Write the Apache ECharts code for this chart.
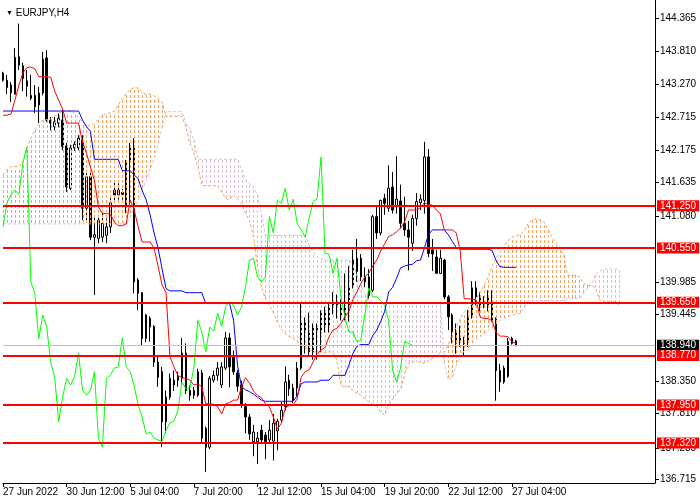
<!DOCTYPE html>
<html>
<head>
<meta charset="utf-8">
<script src="https://cdn.jsdelivr.net/npm/echarts@6/dist/echarts.min.js"></script>
<style>
    html, body, #main {
        width: 100%;
        height: 100%;
        margin: 0;
        background: #fff;
    }
</style>
</head>
<body>
<div id="main"></div>
<script>
// EURJPY H4 candles, one value per bar
var opens = [
    143.45, 143.33, 143.25, 143.10, 143.58, 143.57, 143.32, 143.03, 142.89, 142.92,
    143.12, 143.70, 142.67, 142.56, 142.62, 142.67, 142.24, 141.54, 142.21, 142.21,
    142.34, 141.21, 141.73, 140.73, 140.71, 140.73, 140.76, 140.90, 141.51, 141.43,
    141.47, 141.23, 141.98, 142.20, 140.02, 139.81, 139.05, 139.39, 139.25, 138.66,
    138.50, 137.67, 138.08, 138.36, 138.36, 138.39, 138.81, 138.19, 138.11, 138.11,
    138.48, 137.56, 137.25, 138.36, 138.44, 138.28, 138.56, 139.06, 138.75, 138.48,
    138.28, 137.92, 137.75, 137.34, 137.34, 137.53, 137.45, 137.37, 137.35, 137.52,
    137.70, 137.92, 138.36, 138.03, 138.23, 138.56, 139.35, 139.16, 138.83, 139.22,
    139.14, 139.47, 139.25, 139.57, 139.66, 139.60, 139.44, 139.57, 139.91, 140.16,
    140.38, 140.07, 139.76, 139.85, 141.07, 140.80, 141.37, 141.21, 141.56, 141.24,
    141.33, 140.96, 140.85, 140.63, 141.04, 141.30, 141.34, 142.06, 140.52, 140.40,
    140.13, 140.35, 139.74, 139.44, 138.97, 139.06, 138.97, 139.00, 139.44, 139.89,
    139.57, 139.62, 139.72, 139.63, 139.37, 138.52, 138.33, 138.42, 139.05, 139.01
];
var closes = [
    143.33, 143.21, 143.12, 143.71, 143.72, 143.36, 143.23, 143.08, 143.08, 143.12,
    143.68, 142.67, 142.62, 142.64, 142.70, 142.23, 141.56, 142.21, 142.27, 142.37,
    141.21, 141.73, 140.73, 140.77, 141.01, 140.96, 140.90, 141.30, 141.43, 141.51,
    141.44, 141.96, 142.22, 139.99, 139.80, 139.05, 139.44, 139.24, 138.66, 138.41,
    137.67, 138.08, 138.39, 138.28, 138.42, 138.81, 138.19, 138.11, 138.19, 138.50,
    137.40, 137.25, 138.39, 138.44, 138.56, 138.58, 139.06, 138.58, 138.50, 138.26,
    137.95, 137.75, 137.47, 137.50, 137.40, 137.37, 137.34, 137.53, 137.65, 137.68,
    137.86, 138.33, 138.22, 138.23, 138.56, 139.35, 139.16, 138.83, 139.24, 139.17,
    139.47, 139.25, 139.58, 139.66, 139.60, 139.44, 139.57, 139.91, 140.35, 140.38,
    140.07, 139.99, 140.07, 141.07, 140.80, 141.34, 141.29, 141.54, 141.18, 141.36,
    140.96, 140.85, 140.73, 141.04, 141.32, 141.36, 142.06, 140.46, 140.45, 140.13,
    140.38, 139.74, 139.41, 139.16, 139.16, 139.00, 139.02, 139.44, 139.89, 139.74,
    139.74, 139.68, 139.60, 139.35, 138.52, 138.33, 138.56, 139.00, 138.97, 138.94
];
var lows = [
    143.31, 143.10, 142.97, 143.09, 143.50, 143.15, 143.06, 143.00, 142.79, 142.62,
    143.08, 142.64, 142.50, 142.50, 142.55, 142.17, 141.48, 141.51, 142.16, 142.17,
    141.01, 141.01, 140.68, 139.77, 140.63, 140.65, 140.63, 140.80, 141.34, 141.35,
    141.35, 141.13, 141.30, 139.80, 139.52, 138.94, 138.99, 139.00, 138.58, 138.25,
    137.25, 137.48, 138.04, 138.18, 138.25, 138.31, 138.13, 138.02, 138.05, 138.08,
    137.32, 136.84, 137.22, 138.32, 138.35, 138.23, 138.53, 138.24, 138.45, 138.17,
    137.90, 137.48, 137.37, 137.10, 136.97, 137.30, 137.05, 137.30, 137.03, 137.20,
    137.66, 137.86, 138.10, 137.98, 138.10, 138.53, 138.80, 138.77, 138.70, 138.70,
    138.83, 139.15, 139.15, 139.45, 139.38, 139.35, 139.35, 139.33, 139.88, 139.99,
    140.00, 139.90, 139.70, 139.82, 140.70, 140.76, 141.10, 141.15, 141.12, 141.12,
    140.87, 140.75, 140.18, 140.50, 140.92, 141.18, 141.12, 140.40, 140.17, 140.13,
    140.13, 139.70, 139.19, 138.97, 138.80, 138.91, 138.77, 138.91, 139.38, 139.60,
    139.50, 139.55, 139.50, 139.33, 138.02, 138.17, 138.30, 138.40, 138.95, 138.92
];
var highs = [
    143.47, 143.42, 143.30, 143.86, 144.27, 143.62, 143.50, 143.42, 143.25, 143.22,
    143.80, 143.83, 142.72, 142.72, 142.78, 142.84, 142.29, 142.26, 142.32, 142.42,
    142.42, 141.79, 141.79, 141.07, 141.07, 141.15, 141.04, 141.40, 141.65, 141.62,
    141.53, 142.01, 142.29, 142.37, 140.05, 139.82, 139.46, 139.42, 139.27, 138.75,
    138.58, 138.19, 138.47, 138.52, 138.50, 139.06, 138.97, 138.27, 138.25, 138.55,
    138.53, 137.59, 138.43, 138.52, 138.66, 138.66, 139.16, 139.14, 138.85, 138.53,
    138.35, 137.98, 137.80, 137.62, 137.50, 137.62, 137.50, 137.70, 137.80, 137.72,
    138.00, 138.59, 138.45, 138.30, 138.66, 139.65, 139.40, 139.48, 139.30, 139.30,
    139.52, 139.58, 139.62, 139.82, 139.78, 139.70, 140.13, 140.25, 140.52, 140.70,
    140.45, 140.23, 140.20, 141.10, 141.24, 141.35, 141.45, 141.92, 141.81, 142.07,
    141.60, 141.40, 141.00, 141.10, 141.46, 141.44, 142.31, 142.19, 140.70, 140.52,
    140.52, 140.37, 139.77, 139.47, 139.30, 139.26, 139.08, 139.52, 140.00, 140.00,
    139.82, 139.75, 139.85, 139.85, 139.40, 138.63, 138.60, 139.06, 139.08, 139.03
];

// Ichimoku lines
var tenkan = [
    142.75, 142.75, 142.77, 143.00, 143.25, 143.45, 143.54, 143.55, 143.52, 143.39,
    143.39, 143.39, 143.38, 143.15, 143.00, 142.85, 142.62, 142.62, 142.62, 142.62,
    142.31, 142.12, 141.89, 141.67, 141.23, 141.12, 141.12, 141.11, 140.98, 140.92,
    140.92, 140.95, 141.35, 141.18, 140.90, 140.65, 140.65, 140.65, 140.55, 140.25,
    139.94, 139.81, 138.75, 138.58, 138.44, 138.40, 138.39, 138.36, 138.28, 138.30,
    138.25, 137.97, 137.97, 137.96, 137.92, 137.80, 137.97, 137.99, 138.03, 138.03,
    138.25, 138.40, 138.31, 138.18, 138.11, 138.07, 137.97, 137.92, 137.75, 137.55,
    137.64, 137.90, 137.94, 137.95, 138.05, 138.41, 138.50, 138.53, 138.66, 138.80,
    138.86, 138.90, 139.08, 139.19, 139.22, 139.30, 139.41, 139.50, 139.70, 139.82,
    139.96, 140.07, 140.13, 140.25, 140.35, 140.50, 140.62, 140.74, 140.77, 140.82,
    140.88, 140.98, 141.18, 141.18, 141.18, 141.22, 141.30, 141.27, 141.26, 141.18,
    141.12, 140.85, 140.85, 140.85, 140.80, 140.51, 139.71, 139.71, 139.70, 139.69,
    139.41, 139.38, 139.38, 139.35, 139.15, 139.09, 139.09, 139.08, 139.00, 138.97
];
var kijun = [
    142.82, 142.82, 142.82, 142.82, 142.82, 142.82, 142.82, 142.82, 142.82, 142.82,
    142.82, 142.82, 142.82, 142.82, 142.82, 142.82, 142.82, 142.82, 142.82, 142.82,
    142.67, 142.56, 142.48, 142.02, 142.02, 142.02, 142.02, 142.02, 142.02, 142.02,
    141.83, 141.83, 141.83, 141.76, 141.70, 141.50, 141.35, 141.10, 140.80, 140.55,
    140.21, 139.88, 139.84, 139.84, 139.84, 139.84, 139.81, 139.81, 139.81, 139.81,
    139.81, 139.63, 139.63, 139.63, 139.63, 139.63, 139.63, 139.63, 139.35, 138.60,
    138.25, 138.20, 138.17, 138.13, 138.08, 138.03, 138.01, 138.01, 138.01, 138.01,
    138.01, 138.01, 138.01, 138.01, 138.10, 138.30, 138.33, 138.33, 138.33, 138.33,
    138.36, 138.36, 138.36, 138.44, 138.44, 138.44, 138.44, 138.61, 138.80, 138.92,
    138.95, 138.95, 138.95, 139.10, 139.19, 139.33, 139.50, 139.82, 139.90, 140.05,
    140.22, 140.25, 140.27, 140.28, 140.34, 140.35, 140.55, 140.77, 140.85, 140.85,
    140.85, 140.85, 140.77, 140.66, 140.56, 140.53, 140.53, 140.53, 140.53, 140.53,
    140.53, 140.53, 140.53, 140.51, 140.35, 140.24, 140.23, 140.23, 140.23, 140.23
];
// cloud spans, already shifted 26 bars forward as drawn
var spanA = [
    141.76, 141.85, 141.90, 141.90, 141.90, 141.98, 142.20, 142.37, 142.50, 142.60,
    142.67, 142.68, 142.69, 142.74, 142.78, 142.81, 142.82, 142.82, 142.78, 142.71,
    142.64, 142.59, 142.57, 142.62, 142.68, 142.75, 142.78, 142.79, 142.82, 142.92,
    143.03, 143.11, 143.18, 143.21, 143.20, 143.12, 143.10, 143.10, 143.07, 143.03,
    142.97, 142.73, 142.73, 142.73, 142.73, 142.73, 142.56, 142.28, 142.14, 141.90,
    141.59, 141.58, 141.58, 141.58, 141.58, 141.48, 141.37, 141.35, 141.43, 141.37,
    141.29, 141.12, 141.01, 140.74, 140.25, 139.90, 139.72, 139.60, 139.47, 139.32,
    139.20, 139.13, 139.08, 139.05, 139.00, 138.95, 138.90, 138.86, 138.84, 138.82,
    138.81, 138.81, 138.83, 138.82, 138.69, 138.27, 138.25, 138.25, 138.19, 138.14,
    138.11, 138.05, 138.00, 137.96, 137.92, 137.83, 137.78, 137.94, 138.05, 138.14,
    138.20, 138.45, 138.64, 138.66, 138.67, 138.65, 138.64, 138.68, 138.72, 138.76,
    138.82, 138.83, 138.94, 139.13, 139.24, 139.38, 139.49, 139.55, 139.63, 139.71,
    139.81, 139.93, 140.06, 140.25, 140.38, 140.48, 140.58, 140.67, 140.73, 140.75,
    140.77, 140.82, 140.95, 141.01, 141.03, 141.02, 140.99, 140.87, 140.74, 140.65,
    140.57, 140.43, 140.10, 140.10, 140.10, 140.07, 139.96, 139.93, 139.93, 139.90,
    139.69, 139.66, 139.66, 139.66, 139.66, 139.60
];
var spanB = [
    140.95, 140.95, 140.95, 140.95, 140.95, 140.95, 140.95, 140.95, 140.95, 140.95,
    140.95, 140.95, 140.95, 140.95, 140.95, 140.95, 140.95, 140.95, 140.95, 140.95,
    140.95, 140.95, 140.95, 140.95, 140.95, 140.95, 140.95, 140.95, 140.95, 140.95,
    140.95, 140.95, 141.07, 141.21, 141.34, 141.51, 141.67, 141.84, 142.03, 142.28,
    142.56, 142.81, 142.81, 142.81, 142.81, 142.81, 142.62, 142.53, 142.34, 142.03,
    142.02, 142.02, 142.02, 142.02, 142.02, 142.02, 142.02, 142.02, 142.02, 142.02,
    141.84, 141.67, 141.62, 141.56, 141.43, 141.12, 140.76, 140.76, 140.76, 140.76,
    140.76, 140.76, 140.76, 140.76, 140.76, 140.76, 140.76, 140.60, 140.49, 140.40,
    140.37, 140.35, 140.35, 140.35, 140.35, 140.35, 140.35, 140.35, 140.30, 140.10,
    139.95, 139.80, 139.70, 139.63, 139.63, 139.63, 139.63, 139.63, 139.63, 139.63,
    139.63, 139.63, 139.63, 139.63, 139.63, 139.63, 139.63, 139.63, 139.63, 139.63,
    139.63, 138.64, 138.36, 138.41, 138.61, 138.75, 138.85, 138.86, 138.97, 139.03,
    139.08, 139.12, 139.19, 139.23, 139.29, 139.35, 139.38, 139.41, 139.44, 139.45,
    139.47, 139.55, 139.68, 139.68, 139.68, 139.68, 139.68, 139.68, 139.68, 139.68,
    139.68, 139.68, 139.71, 139.71, 139.71, 139.71, 139.80, 139.88, 139.93, 140.12,
    140.16, 140.20, 140.20, 140.20, 140.20, 140.20
];
var chikouShift = 26;

var timeLabels = ['27 Jun 2022', '30 Jun 12:00', '5 Jul 04:00', '7 Jul 20:00', '12 Jul 12:00',
    '15 Jul 04:00', '19 Jul 20:00', '22 Jul 12:00', '27 Jul 04:00'];
var timeLabelIdx = [0, 16, 32, 48, 64, 80, 96, 112, 128];

var priceLabels = ['144.365', '143.810', '143.270', '142.715', '142.175', '141.635', '141.080',
    '139.985', '139.445', '138.350', '137.810', '137.235', '136.715'];
var levelLabels = ['141.250', '140.550', '139.650', '138.770', '137.950', '137.320'];
var bidLabel = '138.940';

var chart = echarts.init(document.getElementById('main'), null, { devicePixelRatio: 1 });

var barCount = 165;
var cats = [];
for (var i = 0; i < barCount; i++) {
    cats.push(String(i));
}
var candles = opens.map(function (o, i) {
    return [o, closes[i], lows[i], highs[i]];
});
var chikou = closes.slice(chikouShift);
var cloud = spanA.map(function (a, i) {
    return [i, a, spanB[i]];
});
var priceVals = priceLabels.map(Number);

var font = 'Liberation Sans';
var upCloud = '#F4A460';
var downCloud = '#D8BFD8';

function showTime(idx) {
    return timeLabelIdx.indexOf(idx) >= 0;
}

// dotted vertical stroke per bar between the two spans (3px on, 2px off)
function renderCloud(params, api) {
    var a = api.value(1);
    var b = api.value(2);
    var p1 = api.coord([api.value(0), a]);
    var p2 = api.coord([api.value(0), b]);
    var x = Math.round(p1[0]);
    var top = Math.round(Math.min(p1[1], p2[1]));
    var bottom = Math.round(Math.max(p1[1], p2[1]));
    var color = a >= b ? upCloud : downCloud;
    var children = [];
    for (var y = Math.ceil(top / 5) * 5; y < bottom; y += 5) {
        children.push({
            type: 'rect',
            shape: { x: x, y: y, width: 1, height: Math.min(3, bottom - y) },
            style: { fill: color }
        });
    }
    return { type: 'group', children: children, silent: true };
}

chart.setOption({
    animation: false,
    backgroundColor: '#fff',
    textStyle: { fontFamily: font },
    title: {
        text: '{t|▼} EURJPY,H4',
        left: 1,
        top: 3,
        textStyle: {
            fontSize: 10,
            fontWeight: 'normal',
            color: '#000',
            fontFamily: font,
            rich: { t: { fontSize: 7, color: '#000' } }
        }
    },
    grid: { left: 0, right: 45, top: 0, bottom: 17 },
    xAxis: {
        type: 'category',
        data: cats,
        boundaryGap: false,
        axisLine: { lineStyle: { color: '#000', width: 1 } },
        axisTick: { interval: showTime, length: 4, lineStyle: { color: '#000' } },
        axisLabel: {
            interval: showTime,
            formatter: function (v) {
                var k = timeLabelIdx.indexOf(Number(v));
                return k >= 0 ? timeLabels[k] : '';
            },
            align: 'left',
            margin: 4,
            padding: [0, 0, 0, 0],
            fontSize: 10,
            color: '#000',
            fontFamily: font
        },
        splitLine: { show: false }
    },
    yAxis: {
        type: 'value',
        position: 'right',
        min: 136.656,
        max: 144.660,
        splitLine: { show: false },
        axisLine: { show: true, lineStyle: { color: '#000', width: 1 } },
        axisTick: { show: true, customValues: priceVals, length: 4, lineStyle: { color: '#000' } },
        axisLabel: {
            customValues: priceVals,
            formatter: function (v) {
                for (var k = 0; k < priceVals.length; k++) {
                    if (Math.abs(priceVals[k] - v) < 0.0005) return priceLabels[k];
                }
                return '';
            },
            margin: 5,
            fontSize: 10,
            color: '#000',
            fontFamily: font
        }
    },
    series: [
        {
            name: 'bid',
            type: 'line',
            data: [],
            z: 1,
            markLine: {
                silent: true,
                symbol: 'none',
                lineStyle: { color: '#C0C0C0', width: 1, type: 'solid' },
                label: {
                    position: 'end',
                    distance: 2,
                    formatter: '{b}',
                    color: '#fff',
                    backgroundColor: '#000',
                    padding: [1, 3, 0, 3],
                    fontSize: 10,
                    fontFamily: font
                },
                data: [{ yAxis: Number(bidLabel), name: bidLabel }]
            }
        },
        {
            name: 'EURJPY',
            type: 'candlestick',
            data: candles,
            barWidth: 2,
            z: 2,
            itemStyle: {
                color: '#fff',
                color0: '#000',
                borderColor: '#000',
                borderColor0: '#000',
                borderWidth: 1
            }
        },
        {
            name: 'cloud',
            type: 'custom',
            data: cloud,
            renderItem: renderCloud,
            encode: { x: 0, y: [1, 2] },
            z: 3,
            silent: true
        },
        {
            name: 'Senkou A',
            type: 'line',
            data: spanA,
            symbol: 'none',
            z: 3,
            lineStyle: { color: upCloud, width: 1, type: [3, 2] }
        },
        {
            name: 'Senkou B',
            type: 'line',
            data: spanB,
            symbol: 'none',
            z: 3,
            lineStyle: { color: downCloud, width: 1, type: [3, 2] }
        },
        {
            name: 'Chikou',
            type: 'line',
            data: chikou,
            symbol: 'none',
            z: 4,
            lineStyle: { color: '#00FF00', width: 1 }
        },
        {
            name: 'Kijun',
            type: 'line',
            data: kijun,
            symbol: 'none',
            z: 4,
            lineStyle: { color: '#0000FF', width: 1 }
        },
        {
            name: 'Tenkan',
            type: 'line',
            data: tenkan,
            symbol: 'none',
            z: 4,
            lineStyle: { color: '#FF0000', width: 1 }
        },
        {
            name: 'levels',
            type: 'line',
            data: [],
            z: 5,
            markLine: {
                silent: true,
                symbol: 'none',
                lineStyle: { color: '#FF0000', width: 2, type: 'solid' },
                label: {
                    position: 'end',
                    distance: 2,
                    formatter: '{b}',
                    color: '#fff',
                    backgroundColor: '#FF0000',
                    padding: [1, 3, 0, 3],
                    fontSize: 10,
                    fontFamily: font
                },
                data: levelLabels.map(function (s) {
                    return { yAxis: Number(s), name: s };
                })
            }
        }
    ]
});
</script>
</body>
</html>
